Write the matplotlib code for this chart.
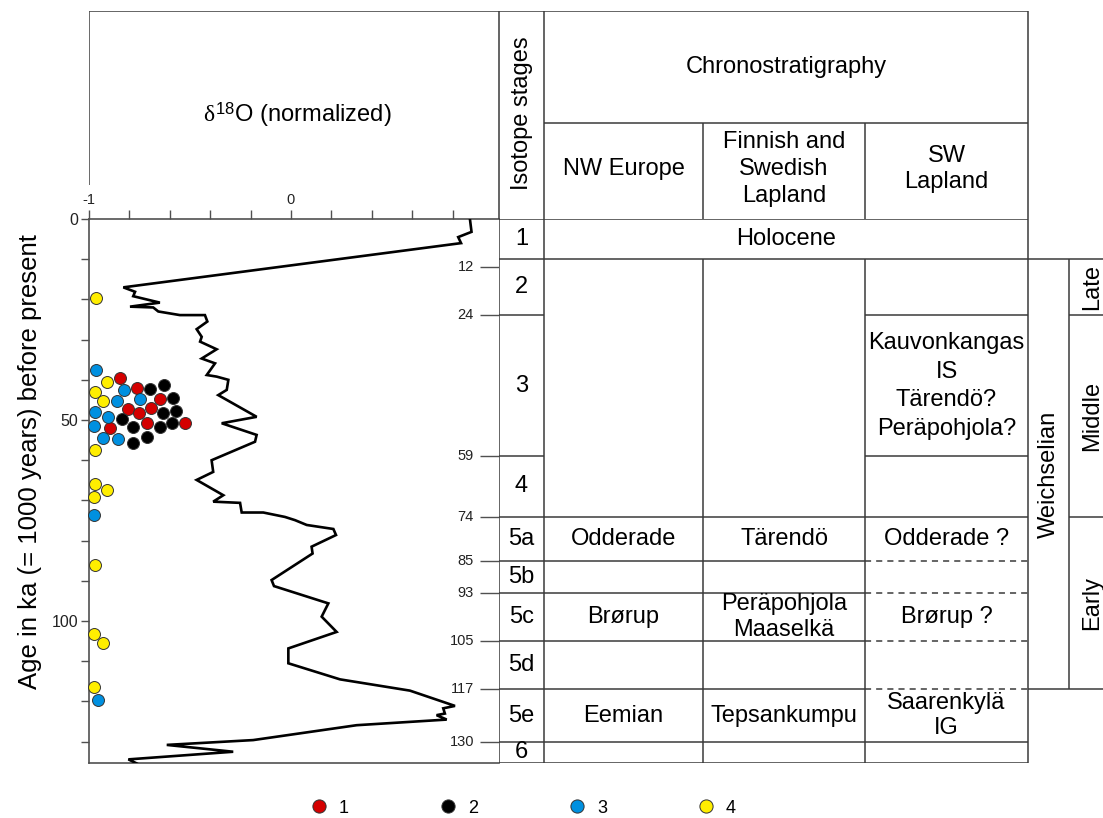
import numpy as np
import matplotlib
matplotlib.use('Agg')
import matplotlib.pyplot as plt
from matplotlib.lines import Line2D

plt.rcParams['font.family'] = ['Liberation Sans', 'DejaVu Sans']
plt.rcParams['axes.unicode_minus'] = False
plt.rcParams['mathtext.fontset'] = 'custom'
plt.rcParams['mathtext.rm'] = 'Liberation Sans'
plt.rcParams['mathtext.it'] = 'Liberation Serif'

# ── δ18O stack (normalized) vs age (ka) ─────────────────────────────────────
d18o = [0.886, 0.894, 0.828, 0.842, -0.830, -0.772, -0.781, -0.649, -0.797, -0.682,
        -0.657, -0.550, -0.426, -0.414, -0.467, -0.442, -0.450, -0.368, -0.442, -0.376,
        -0.417, -0.368, -0.310, -0.318, -0.360, -0.170, -0.343, -0.170, -0.178, -0.393,
        -0.385, -0.467, -0.335, -0.385, -0.252, -0.244, -0.137, -0.030, 0.020, 0.078,
        0.210, 0.223, 0.102, 0.107, -0.096, -0.084, 0.185, 0.152, 0.226, -0.013,
        -0.013, 0.243, 0.589, 0.812, 0.754, 0.762, 0.721, 0.771, 0.325, -0.187,
        -0.615, -0.286, -0.805, -0.764]
d18o_age = [0.0, 3.2, 4.5, 6.0, 17.0, 18.1, 19.2, 20.8, 21.8, 22.0,
            23.0, 23.9, 23.9, 25.5, 27.4, 29.3, 30.5, 32.4, 34.7, 35.9,
            38.8, 39.2, 40.0, 42.5, 43.8, 49.2, 50.8, 53.7, 55.4, 60.0,
            62.9, 64.9, 68.7, 70.3, 70.6, 73.0, 73.0, 74.1, 74.9, 76.1,
            77.1, 78.6, 81.5, 83.2, 89.8, 91.3, 95.6, 98.9, 102.7, 106.8,
            110.5, 114.5, 117.3, 121.1, 121.7, 123.0, 123.4, 124.5, 125.9, 129.6,
            130.8, 132.5, 134.4, 135.4]

# ── dated samples, groups 1-4 ───────────────────────────────────────────────
g1_x = [-0.847, -0.764, -0.649, -0.805, -0.751, -0.693, -0.714, -0.896, -0.523]
g1_age = [39.6, 42.1, 44.8, 47.2, 48.3, 47.1, 50.8, 52.1, 50.8]
g2_x = [-0.698, -0.629, -0.583, -0.569, -0.635, -0.838, -0.784, -0.649, -0.589, -0.714, -0.781]
g2_age = [42.3, 41.3, 44.5, 47.7, 48.3, 49.8, 51.8, 51.8, 50.7, 54.2, 55.8]
g3_x = [-0.967, -0.827, -0.860, -0.748, -0.970, -0.904, -0.974, -0.932, -0.855, -0.974, -0.954]
g3_age = [37.6, 42.5, 45.2, 44.8, 47.9, 49.3, 51.5, 54.4, 54.7, 73.6, 119.7]
g4_x = [-0.967, -0.912, -0.970, -0.932, -0.970, -0.970, -0.912, -0.974, -0.970, -0.975,
        -0.929, -0.974]
g4_age = [19.7, 40.5, 43.0, 45.3, 57.5, 65.8, 67.4, 69.1, 86.1, 103.1, 105.5, 116.3]

groups = ['1', '2', '3', '4']
group_colors = ['#d40000', '#000000', '#0090e0', '#ffee00']

# ── isotope stages and chronostratigraphy ───────────────────────────────────
stage_names = ['1', '2', '3', '4', '5a', '5b', '5c', '5d', '5e', '6']
stage_tops = [0, 10, 24, 59, 74, 85, 93, 105, 117, 130]
age_ticks = [12, 24, 59, 74, 85, 93, 105, 117, 130]
age_max = 135.3

nw_europe = [('Odderade', 74, 85), ('Brørup', 93, 105), ('Eemian', 117, 130)]
fin_swe = [('Tärendö', 74, 85), ('Peräpohjola\nMaaselkä', 93, 105),
           ('Tepsankumpu', 117, 130)]
sw_lapland = [('Kauvonkangas\nIS\nTärendö?\nPeräpohjola?', 24, 59),
              ('Odderade ?', 74, 85), ('Brørup ?', 93, 105), ('Saarenkylä\nIG', 117, 130)]
sw_dashed = [85, 93, 105, 117]
weichselian = (10, 117)
substages = [('Late', 10, 24), ('Middle', 24, 74), ('Early', 74, 117)]

W, H = 1103, 818
LC = '#3a3a3a'   # table lines
AC = '#505050'   # axis lines
FS = 17

# column edges (px): isotope | NW Europe | Fin/Swe | SW Lapland | Weichselian | substage
X_ISO, X_NW, X_FIN, X_SW, X_END, X_WEI, X_SUB = 499, 544, 703, 865, 1028, 1069, 1115

fig = plt.figure(figsize=(W / 100, H / 100), dpi=100)
ax = fig.add_axes([89 / W, (H - 763) / H, 410 / W, 544 / H])
tab = fig.add_axes([X_ISO / W, (H - 763) / H, (1120 - X_ISO) / W, 544 / H], sharey=ax)
hdr = fig.add_axes([89 / W, (H - 219) / H, (1120 - 89) / W, 208 / H])
for a in (tab, hdr):
    a.set_axis_off()
    a.patch.set_visible(False)

# curve + samples
ax.plot(d18o, d18o_age, color='black', lw=1.9, zorder=3, solid_joinstyle='miter')
for xs, ys, c in zip([g1_x, g2_x, g3_x, g4_x], [g1_age, g2_age, g3_age, g4_age], group_colors):
    ax.scatter(xs, ys, s=74, color=c, edgecolor='#333333', linewidth=0.7, zorder=4,
               clip_on=False)

ax.set_xlim(-1, 1.03)
ax.set_ylim(age_max, 0)
ax.spines['right'].set_visible(False)
for sp in ('left', 'top', 'bottom'):
    ax.spines[sp].set_color(AC)
    ax.spines[sp].set_linewidth(1.2)

ax.xaxis.tick_top()
xt = np.round(np.arange(-1, 0.81, 0.2), 1)
ax.set_xticks(xt)
ax.set_xticklabels(['-1' if v == -1 else '0' if v == 0 else '' for v in xt], fontsize=10.5,
                   color='#222222')
ax.tick_params(axis='x', direction='out', length=6.5, width=1, color=AC, pad=2)

ax.set_yticks([0, 50, 100])
ax.set_yticks(np.arange(10, 131, 10), minor=True)
ax.tick_params(axis='y', which='both', direction='out', length=6, width=1, color=AC,
               labelsize=11.5, labelcolor='#222222', pad=2)
ax.set_ylabel('Age in ka (= 1000 years) before present', fontsize=18.5)
ax.yaxis.set_label_coords(-0.115, 0.555)

# stage boundary ticks inside the right edge of the curve panel
yt = ax.get_yaxis_transform()
ax.hlines(age_ticks, 1 - 19 / 410, 1, transform=yt, color=AC, lw=1)
for t in age_ticks:
    ax.text(1 - 25 / 410, t, str(t), transform=yt, ha='right', va='center',
            fontsize=10.5, color='#222222')

# ── table body ──────────────────────────────────────────────────────────────
tab.set_xlim(X_ISO, 1120)
kw = dict(color=LC, lw=1.1)
tab.vlines([X_ISO, X_NW, X_END], 0, age_max, **kw)
tab.vlines([X_FIN, X_SW], stage_tops[1], age_max, **kw)
tab.vlines([X_WEI, X_SUB], weichselian[0], weichselian[1], **kw)
tab.hlines([0, age_max], X_ISO, X_END, **kw)
tab.hlines(weichselian, X_END, X_SUB, **kw)
tab.hlines([s[2] for s in substages[:-1]], X_WEI, X_SUB, **kw)
for top in stage_tops[1:]:
    if top == stage_tops[1]:
        tab.hlines(top, X_ISO, X_END, **kw)
    elif top in (24, 59):
        tab.hlines(top, X_ISO, X_NW, **kw)
        tab.hlines(top, X_SW, X_END, **kw)
    elif top in sw_dashed:
        tab.hlines(top, X_ISO, X_SW, **kw)
        tab.hlines(top, X_SW, X_END, color=LC, lw=1.1, linestyles=(0, (4, 3.3)))
    else:
        tab.hlines(top, X_ISO, X_END, **kw)

bottoms = stage_tops[1:] + [age_max]
for name, t0, t1 in zip(stage_names, stage_tops, bottoms):
    tab.text((X_ISO + X_NW) / 2, (t0 + t1) / 2, name, ha='center', va='center', fontsize=FS)
tab.text((X_NW + X_END) / 2, (stage_tops[0] + stage_tops[1]) / 2, 'Holocene',
         ha='center', va='center', fontsize=FS)
for cells, x0, x1 in [(nw_europe, X_NW, X_FIN), (fin_swe, X_FIN, X_SW),
                      (sw_lapland, X_SW, X_END)]:
    for txt, t0, t1 in cells:
        ls = 1.38 if txt.count('\n') > 1 else 1.22
        tab.text((x0 + x1) / 2, (t0 + t1) / 2, txt, ha='center', va='center',
                 fontsize=FS, linespacing=ls, multialignment='center')
tab.text((X_END + X_WEI) / 2, sum(weichselian) / 2, 'Weichselian', rotation=90,
         ha='center', va='center', fontsize=FS)
for txt, t0, t1 in substages:
    tab.text((X_WEI + X_SUB) / 2, (t0 + t1) / 2, txt, rotation=90,
             ha='center', va='center', fontsize=FS)

# ── header ──────────────────────────────────────────────────────────────────
hdr.set_xlim(89, 1120)
hdr.set_ylim(219, 11)
hdr.hlines(11, 89, X_END, **kw)
hdr.hlines(123, X_NW, X_END, **kw)
hdr.vlines(89, 11, 185, color=AC, lw=1.2)
hdr.vlines([X_ISO, X_NW, X_END], 11, 219, **kw)
hdr.vlines([X_FIN, X_SW], 123, 219, **kw)
hdr.text(297, 115, r'$\delta^{\mathrm{18}}$O (normalized)', ha='center', va='center',
         fontsize=FS)
hdr.text((X_ISO + X_NW) / 2, 113, 'Isotope stages', rotation=90, ha='center',
         va='center', fontsize=FS)
hdr.text((X_NW + X_END) / 2, 67, 'Chronostratigraphy', ha='center', va='center',
         fontsize=FS)
for txt, x0, x1 in [('NW Europe', X_NW, X_FIN), ('Finnish and\nSwedish\nLapland', X_FIN, X_SW),
                    ('SW\nLapland', X_SW, X_END)]:
    hdr.text((x0 + x1) / 2, 169, txt, ha='center', va='center', fontsize=FS,
             linespacing=1.27, multialignment='center')

# legend
handles = [Line2D([], [], ls='', marker='o', markersize=9.5, markerfacecolor=c,
                  markeredgecolor='#333333', markeredgewidth=0.7) for c in group_colors]
fig.legend(handles, groups, loc='center', bbox_to_anchor=(0.474, 0.012), ncol=4,
           frameon=False, fontsize=13, handlelength=1.0, handletextpad=0.6,
           columnspacing=5.0, borderpad=0)

fig.savefig('out.png', dpi=100, facecolor='white')
